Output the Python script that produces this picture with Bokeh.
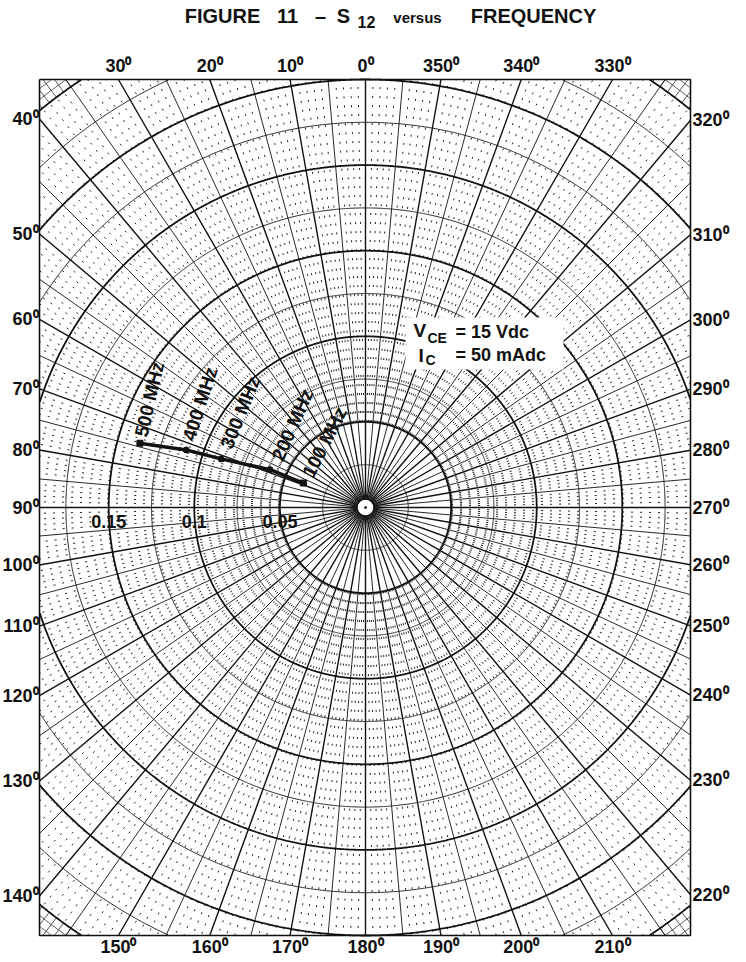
import numpy as np
from bokeh.plotting import figure
from bokeh.models import Range1d, ColumnDataSource
from bokeh.embed import file_html
from bokeh.resources import INLINE
from bokeh.core.properties import value

# ---------------- data ----------------
freq_labels = ["100 MHz", "200 MHz", "300 MHz", "400 MHz", "500 MHz"]
s12_magnitude = [0.039, 0.060, 0.089, 0.110, 0.137]
s12_angle_deg = [68.5, 68.4, 71.4, 72.2, 74.1]
mag_ticks = [0.05, 0.1, 0.15]
mag_tick_labels = ["0.05", "0.1", "0.15"]
angle_ticks = list(range(0, 360, 10))
title_words = ["FIGURE", "11", "\u2013", "S", "12", "versus", "FREQUENCY"]
bias_text = ["V", "CE", "= 15 Vdc", "I", "C", "= 50 mAdc"]

# ---------------- layout / style ----------------
W, H = 746, 960
CXp, CYp = 365, 507          # pixel of the chart centre
S = 1712.0                   # pixels per unit of |S12|
FONT = value("Liberation Sans")
INK = "#111111"


def X(px):
    return (px - CXp) / S


def Y(py):
    return (CYp - py) / S


XL, XR, YT, YB = X(39), X(690), Y(79), Y(935)

p = figure(width=W, height=H,
           x_range=Range1d(X(0), X(W)),
           y_range=Range1d(Y(H), Y(0)),
           output_backend="svg", toolbar_location=None,
           x_axis_location=None, y_axis_location=None,
           min_border=0, outline_line_color=None)
p.min_border_left = p.min_border_right = p.min_border_top = p.min_border_bottom = 0
p.background_fill_color = "white"
p.border_fill_color = "white"
for g in p.grid:
    g.visible = False


def edge_t(theta_deg):
    th = np.radians(theta_deg)
    dx, dy = -np.sin(th), np.cos(th)
    ts = []
    if dx > 1e-12:
        ts.append((XR / dx, "right"))
    if dx < -1e-12:
        ts.append((XL / dx, "left"))
    if dy > 1e-12:
        ts.append((YT / dy, "top"))
    if dy < -1e-12:
        ts.append((YB / dy, "bottom"))
    return min(ts)


def radial(theta_list, r0, r1=None):
    xs, ys = [], []
    for th in theta_list:
        t, _ = edge_t(th)
        if r0 >= t:
            continue
        end = t if r1 is None else min(t, r1)
        a = np.radians(th)
        xs.append([-r0 * np.sin(a), -end * np.sin(a)])
        ys.append([r0 * np.cos(a), end * np.cos(a)])
    return xs, ys


def circles(radii, step=0.2):
    xs, ys = [], []
    a = np.radians(np.arange(0, 360 + step, step))
    for r in radii:
        x = -r * np.sin(a)
        y = r * np.cos(a)
        inside = (x >= XL) & (x <= XR) & (y >= YB) & (y <= YT)
        if not inside.any():
            continue
        xs.append(np.where(inside, x, np.nan))
        ys.append(np.where(inside, y, np.nan))
    return xs, ys


# ---------------- grid ----------------
one_deg = [a for a in range(360) if a % 5 != 0]
xs, ys = radial(one_deg, 0.05, 0.3)
p.multi_line(xs, ys, line_color="#222222", line_width=1.0, line_dash="2 7")

# crosshatch beyond the outer bold circle (corners)
xs, ys = radial(list(range(360)), 0.3)
p.multi_line(xs, ys, line_color=INK, line_width=0.7)
xs, ys = circles([0.305, 0.31, 0.315])
p.multi_line(xs, ys, line_color=INK, line_width=0.7)

medium_r = [0.025 + 0.05 * k for k in range(7)]
xs, ys = circles(medium_r)
p.multi_line(xs, ys, line_color=INK, line_width=0.9)

xs, ys = radial([a for a in range(5, 360, 10)], 0.0)
p.multi_line(xs, ys, line_color=INK, line_width=0.9)
xs, ys = radial(list(range(0, 360, 10)), 0.0)
p.multi_line(xs, ys, line_color=INK, line_width=1.4)

bold_r = [0.05 * k for k in range(1, 7)]
xs, ys = circles(bold_r)
p.multi_line(xs, ys, line_color=INK, line_width=1.8)

# frame
p.multi_line([[XL, XR, XR, XL, XL]], [[YT, YT, YB, YB, YT]], line_color=INK, line_width=1.6)

# centre hole
p.scatter([0], [0], size=17, marker="circle", fill_color="white", line_color=INK, line_width=1.5)
p.scatter([0], [0], size=2, marker="circle", fill_color=INK, line_color=INK)

# ---------------- angle labels ----------------
lab = {"top": ([], [], []), "bottom": ([], [], []), "left": ([], [], []), "right": ([], [], [])}
for th in angle_ticks:
    t, edge = edge_t(th)
    a = np.radians(th)
    x, y = -t * np.sin(a), t * np.cos(a)
    txt = f"{th}\u2070"
    if edge == "top":
        lab[edge][0].append(x); lab[edge][1].append(Y(65))
    elif edge == "bottom":
        lab[edge][0].append(x); lab[edge][1].append(Y(946))
    elif edge == "left":
        lab[edge][0].append(X(38)); lab[edge][1].append(y)
    else:
        lab[edge][0].append(X(692)); lab[edge][1].append(y)
    lab[edge][2].append(txt)

common = dict(text_font=FONT, text_font_size="18px", text_font_style="bold", text_color=INK,
              text_baseline="middle")
p.text(lab["top"][0], lab["top"][1], text=lab["top"][2], text_align="center", **common)
p.text(lab["bottom"][0], lab["bottom"][1], text=lab["bottom"][2], text_align="center", **common)
p.text(lab["left"][0], lab["left"][1], text=lab["left"][2], text_align="right", **common)
p.text(lab["right"][0], lab["right"][1], text=lab["right"][2], text_align="left", **common)

# magnitude labels along the 90 deg radial
p.text([-m for m in mag_ticks], [Y(521)] * len(mag_ticks), text=mag_tick_labels,
       text_align="center", **common)

# ---------------- S12 curve ----------------
ang = np.radians(s12_angle_deg)
cx = [-m * np.sin(a) for m, a in zip(s12_magnitude, ang)]
cy = [m * np.cos(a) for m, a in zip(s12_magnitude, ang)]
p.line(cx, cy, line_color=INK, line_width=3.5)
p.scatter(cx[1:-1], cy[1:-1], size=6, marker="circle", fill_color=INK, line_color=INK)
p.scatter([cx[0], cx[-1]], [cy[0], cy[-1]], size=6, marker="square", fill_color=INK, line_color=INK)

label_angles = [63, 66, 68, 72, 77]
label_dx = [4, 7, 5, 2, 1]
label_dy = [-7, -10, -11, -10, -7]
src = ColumnDataSource(dict(x=cx, y=cy, t=freq_labels, a=np.radians(label_angles),
                            dx=label_dx, dy=label_dy))
p.text(x="x", y="y", text="t", angle="a", x_offset="dx", y_offset="dy", source=src,
       text_font=FONT, text_font_size="19px", text_font_style="bold", text_color=INK,
       text_align="left", text_baseline="middle")

# ---------------- bias conditions box ----------------
p.quad(left=[X(405)], right=[X(563)], top=[Y(317)], bottom=[Y(369)],
       fill_color="white", line_color=None)
bx = [X(413), X(427), X(455), X(418), X(425), X(455)]
by = [Y(330), Y(337), Y(331), Y(355), Y(359), Y(354)]
bs = ["19px", "14px", "18px", "19px", "14px", "18px"]
for x, y, t, s in zip(bx, by, bias_text, bs):
    p.text([x], [y], text=[t], text_font=FONT, text_font_size=s, text_font_style="bold",
           text_color=INK, text_align="left", text_baseline="middle")

# ---------------- title ----------------
tx = [222, 287, 320, 343, 366, 417, 533]
ty = [15, 15, 15, 15, 21, 17, 15]
ts = ["20px", "20px", "20px", "20px", "16px", "15px", "20px"]
for x, y, t, s in zip(tx, ty, title_words, ts):
    p.text([X(x)], [Y(y)], text=[t], text_font=FONT, text_font_size=s, text_font_style="bold",
           text_color=INK, text_align="center", text_baseline="middle")

open("out.html", "w").write(file_html(p, INLINE))
